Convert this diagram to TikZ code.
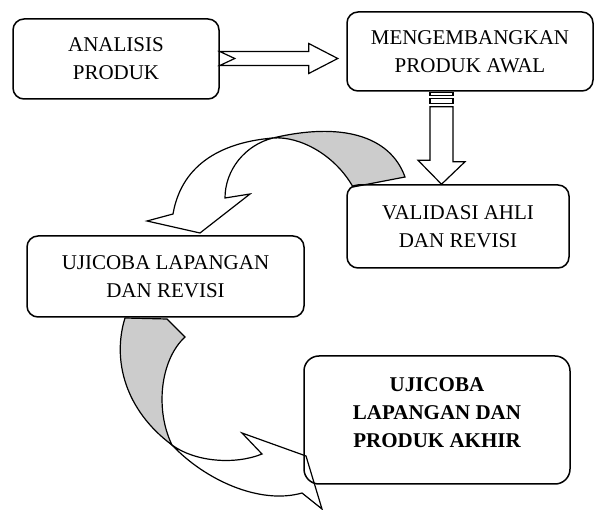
\documentclass[tikz,border=0pt]{standalone}
\usepackage{fontspec}
\setmainfont{Liberation Serif}
\usetikzlibrary{calc}
\definecolor{bandgray}{gray}{0.8}
\begin{document}
\begin{tikzpicture}[x=1pt,y=-1pt,
  box/.style={draw,line width=1.5pt,rounded corners=11pt,align=center,
    font=\fontsize{21}{28}\selectfont},
  blk/.style={draw,line width=1.2pt,fill=white,line join=miter},
  back/.style={draw,line width=1.2pt,fill=bandgray}]
  \useasboundingbox (0,0) rectangle (595,510);
  \draw[back] (353,187) .. controls (335,155) and (300,136) .. (273,138)
    .. controls (340,122) and (390,135) .. (405,177) -- cycle;
  \draw[blk] (273,138) .. controls (225,142) and (182,162) .. (173,214)
    -- (147,221) -- (200,233) -- (250,194) -- (225,198)
    .. controls (225,170) and (245,145) .. (273,138) -- cycle;
  \draw[back] (125,318) -- (167,319) -- (185,337)
    .. controls (160,360) and (155,410) .. (172,445)
    .. controls (125,410) and (112,360) .. (125,318) -- cycle;
  \draw[blk] (172,445) .. controls (205,480) and (260,505) .. (302,493)
    -- (322,509) -- (306,456) -- (242,433) -- (262,454)
    .. controls (235,465) and (195,462) .. (172,445) -- cycle;
  \node[box,minimum width=206pt,minimum height=80pt] (analisis) at (116,59) {ANALISIS\\PRODUK};
  \node[box,minimum width=246pt,minimum height=79pt] (awal) at (470,51.5) {MENGEMBANGKAN\\PRODUK AWAL};
  \node[box,minimum width=222pt,minimum height=83pt] (validasi) at (458,226.5) {VALIDASI AHLI\\DAN REVISI};
  \node[box,minimum width=277pt,minimum height=81pt] (ujicoba) at (165.5,276.5) {UJICOBA LAPANGAN\\DAN REVISI};
  \node[box,rounded corners=15pt,minimum width=266pt,minimum height=128pt] (akhir) at (437,420) {};
  \node[align=center,font=\fontsize{21}{28}\selectfont\bfseries,yshift=7pt] (akhirteks) at (akhir.center)
    {UJICOBA\\LAPANGAN DAN\\PRODUK AKHIR};
  \draw[blk] (analisis.east) ++(0,-7.5) -- ++(89,0) -- ++(0,-8) -- ++(29,15)
    -- ++(-29,15) -- ++(0,-8) -- ++(-89,0) -- ++(15,-7) -- cycle;
  \coordinate (d) at ([xshift=-28.5pt]awal.south);
  \draw[blk] ($(d)+(-11.5,1)$) rectangle ++(23,3);
  \draw[blk] ($(d)+(-11.5,7)$) rectangle ++(23,5);
  \draw[blk] ($(d)+(-11.5,15)$) -- ++(23,0) -- ++(0,55) -- ++(12,0)
    -- (validasi.north -| d) -- ++(-23.5,-24) -- ++(12,0) -- cycle;
\end{tikzpicture}
\end{document}
